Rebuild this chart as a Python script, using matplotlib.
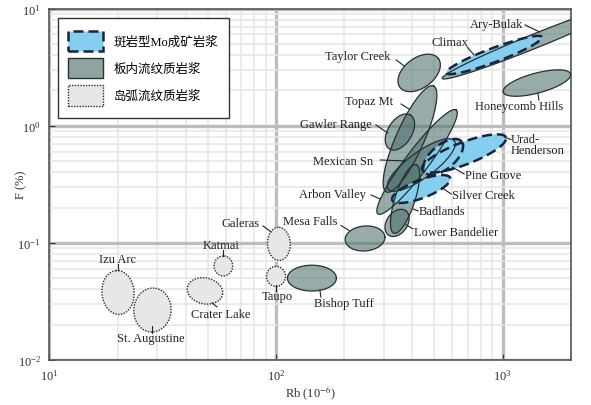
import matplotlib
matplotlib.use('Agg')
import matplotlib.pyplot as plt
from matplotlib.patches import Patch, Rectangle
from matplotlib.legend_handler import HandlerPatch
from matplotlib.ticker import LogLocator, NullFormatter
import numpy as np

plt.rcParams['font.family'] = ['Liberation Serif', 'Noto Sans CJK SC']
plt.rcParams['mathtext.fontset'] = 'stix'

# ellipses: centre (Rb ppm, F %), half axes in decades of Rb, tilt in degrees
mo_names = ['Climax', 'Urad-\nHenderson', 'Pine Grove', 'Silver Creek']
mo_rb = [916, 675, 546, 437]
mo_f = [4.01, 0.579, 0.541, 0.288]
mo_a = [0.225, 0.198, 0.106, 0.137]
mo_b = [0.031, 0.049, 0.053, 0.040]
mo_ang = [20.6, 21, 40, 21]

ip_names = ['Ary-Bulak', 'Honeycomb Hills', 'Taylor Creek', 'Topaz Mt',
            'Gawler Range', 'Arbon Valley', 'Mexican Sn', 'Badlands',
            'Lower Bandelier', 'Mesa Falls', 'Bishop Tuff']
ip_rb = [1387, 1415, 428, 390, 352, 419, 437, 371, 342, 247, 144]
ip_f = [5.28, 2.31, 2.82, 0.77, 0.883, 0.49, 0.462, 0.237, 0.148, 0.109, 0.050]
ip_a = [0.441, 0.154, 0.106, 0.256, 0.088, 0.287, 0.181, 0.159, 0.066, 0.088, 0.108]
ip_b = [0.031, 0.044, 0.066, 0.062, 0.053, 0.051, 0.057, 0.044, 0.046, 0.055, 0.057]
ip_ang = [22, 15, 37, 66, 58, 53, 36, 72, 55, 5, 0]

ia_names = ['Izu Arc', 'St. Augustine', 'Crater Lake', 'Katmai', 'Galeras', 'Taupo']
ia_rb = [20.1, 28.5, 48.6, 58.6, 103, 100]
ia_f = [0.0377, 0.0267, 0.0389, 0.0635, 0.098, 0.0517]
ia_a = [0.097, 0.097, 0.079, 0.044, 0.073, 0.044]
ia_b = [0.071, 0.082, 0.057, 0.041, 0.050, 0.042]
ia_ang = [95, 85, -12, 90, 92, 90]

legend_labels = ['斑岩型Mo成矿岩浆', '板内流纹质岩浆', '岛弧流纹质岩浆']

# label placement: text offset and leader line, pixels from the ellipse centre (y down)
label_layout = {
    'Climax': (-44, -13, 'center', (-27, -8, -20, 0)),
    'Urad-\nHenderson': (47, -9, 'left', (41, -16, 47, -14)),
    'Pine Grove': (22, 18, 'left', (9, 10, 21, 17)),
    'Silver Creek': (31, 6, 'left', (21, -1, 30, 5)),
    'Ary-Bulak': (-12, -17, 'right', (-10, -16, 5, -9)),
    'Honeycomb Hills': (-18, 23, 'center', (1, 10, 2, 17)),
    'Taylor Creek': (-29, -17, 'right', (-23, -13, -15, -7)),
    'Topaz Mt': (-17, -38, 'right', (-9, -35, -1, -30)),
    'Gawler Range': (-28, -8, 'right', (-24, -7, -12, 1)),
    'Arbon Valley': (-51, 32, 'right', (-46, 33, -37, 37)),
    'Mexican Sn': (-48, -4, 'right', (-41, -5, -16, -4)),
    'Badlands': (14, 12, 'left', (8, 10, 13, 12)),
    'Lower Bandelier': (17, 9, 'left', (9, 2, 16, 6)),
    'Mesa Falls': (-28, -17, 'right', (-24, -13, -16, -8)),
    'Bishop Tuff': (32, 25, 'center', (8, 12, 9, 19)),
    'Izu Arc': (0, -33, 'center', (0, -28, 0, -22)),
    'St. Augustine': (-2, 28, 'center', (0, 16, 0, 23)),
    'Crater Lake': (16, 23, 'center', (7, 12, 12, 16)),
    'Katmai': (-2, -21, 'center', (-0.5, -16, -0.5, -10)),
    'Galeras': (-19, -21, 'right', (-16, -18, -8, -12)),
    'Taupo': (1, 20, 'center', (0, 9, 0, 15)),
}

blue = '#86cef0'
blue_edge = '#17243a'
grey = '#4e716e'
grey_edge = '#26302f'
light = '#e7e7e7'

fig = plt.figure(figsize=(5.91, 4.06), dpi=100)
ax = fig.add_axes([0.0834, 0.1108, 0.8827, 0.8658])
ax.set_xscale('log')
ax.set_yscale('log')
ax.set_xlim(10, 2000)
ax.set_ylim(0.01, 10)

# decades of y per decade of x in screen space
ratio = (ax.bbox.width / np.log10(2000 / 10)) / (ax.bbox.height / 3.0)


def outline(rb, f, a, b, ang):
    t = np.linspace(0, 2 * np.pi, 200)
    th = np.radians(ang)
    dx = a * np.cos(t) * np.cos(th) - b * np.sin(t) * np.sin(th)
    dy = a * np.cos(t) * np.sin(th) + b * np.sin(t) * np.cos(th)
    return 10 ** (np.log10(rb) + dx), 10 ** (np.log10(f) + dy * ratio)


ip_shapes = [outline(*p) for p in zip(ip_rb, ip_f, ip_a, ip_b, ip_ang)]
mo_shapes = [outline(*p) for p in zip(mo_rb, mo_f, mo_a, mo_b, mo_ang)]
ia_shapes = [outline(*p) for p in zip(ia_rb, ia_f, ia_a, ia_b, ia_ang)]

for x, y in ia_shapes:
    ax.fill(x, y, facecolor=light, edgecolor='#2b2b2b', lw=1.0,
            linestyle=(0, (1, 1)), zorder=2)
for x, y in ip_shapes:
    ax.fill(x, y, facecolor=grey, alpha=0.58, edgecolor='none', zorder=2)
for x, y in mo_shapes:
    ax.fill(x, y, facecolor=blue, edgecolor='none', zorder=3)
for x, y in ip_shapes:
    ax.plot(x, y, color=grey_edge, lw=0.9, zorder=4)
for x, y in mo_shapes:
    ax.plot(x, y, color=blue_edge, lw=1.8, linestyle=(0, (4, 2)), zorder=5)

# labels with short leader lines
inv = ax.transData.inverted()
centres = list(zip(mo_names + ip_names + ia_names, mo_rb + ip_rb + ia_rb, mo_f + ip_f + ia_f))
for name, rb, f in centres:
    tx, ty, ha, (x1, y1, x2, y2) = label_layout[name]
    cx, cy = ax.transData.transform((rb, f))
    px, py = inv.transform((cx + tx, cy - ty))
    ax.text(px, py, name, ha=ha, va='center', fontsize=9, color='#222222',
            linespacing=0.9, zorder=6)
    l1 = inv.transform((cx + x1, cy - y1))
    l2 = inv.transform((cx + x2, cy - y2))
    ax.plot([l1[0], l2[0]], [l1[1], l2[1]], color='#222222', lw=0.8, zorder=6)

ax.xaxis.set_minor_locator(LogLocator(base=10, subs=np.arange(2, 10)))
ax.yaxis.set_minor_locator(LogLocator(base=10, subs=np.arange(2, 10)))
ax.xaxis.set_minor_formatter(NullFormatter())
ax.yaxis.set_minor_formatter(NullFormatter())
ax.grid(which='major', color='#bdbdbd', lw=2.4)
ax.grid(which='minor', color='#e6e6e6', lw=1.1)
ax.set_axisbelow(True)
ax.tick_params(which='major', direction='in', length=4, labelsize=9,
               colors='#333333', pad=6)
ax.tick_params(which='minor', length=0)
for s in ax.spines.values():
    s.set_color('#555555')
    s.set_linewidth(1.2)

ax.set_xlabel('Rb (10$^{-6}$)', fontsize=9, color='#333333')
ax.set_ylabel('F (%)', fontsize=9, color='#333333')
ax.xaxis.set_label_coords(0.5, -0.068)
ax.yaxis.set_label_coords(-0.043, 0.5)


def legend_box(legend, orig_handle, xdescent, ydescent, width, height, fontsize):
    return Rectangle((-xdescent, -ydescent + 0.1 * height), width, 0.8 * height)


handles = [
    Patch(facecolor=blue, edgecolor=blue_edge, lw=1.8, linestyle=(0, (4, 2))),
    Patch(facecolor='#8fa4a2', edgecolor=grey_edge, lw=1.0),
    Patch(facecolor=light, edgecolor='#2b2b2b', lw=1.0, linestyle=(0, (1, 1))),
]
leg = ax.legend(handles, legend_labels, loc='upper left',
                bbox_to_anchor=(0.016, 0.973), fontsize=9, fancybox=False,
                edgecolor='#333333', framealpha=1, handlelength=2.8,
                handleheight=2.75, labelspacing=0.16, handletextpad=0.9,
                borderpad=0.8, borderaxespad=0,
                handler_map={Patch: HandlerPatch(patch_func=legend_box)})
leg.get_frame().set_linewidth(1.0)
leg.set_zorder(10)

fig.savefig('out.png', dpi=100)
